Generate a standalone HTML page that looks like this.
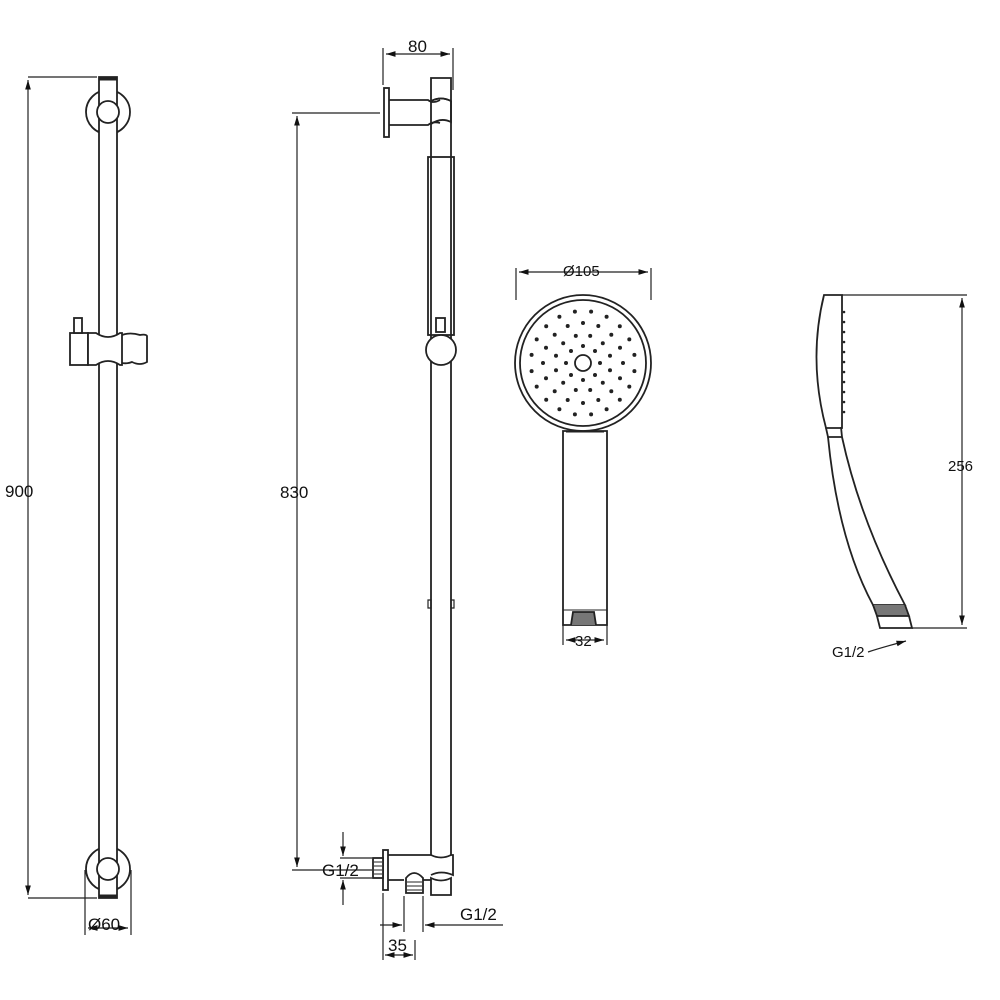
<!DOCTYPE html>
<html><head><meta charset="utf-8"><style>body{margin:0;background:#fff}svg{display:block}text{font-family:"Liberation Sans",sans-serif;font-size:17px;fill:#111}</style></head><body>
<svg width="1000" height="1000" viewBox="0 0 1000 1000" xmlns="http://www.w3.org/2000/svg">
<defs>
<marker id="a" viewBox="0 0 10 10" refX="10" refY="5" markerWidth="8" markerHeight="8" orient="auto-start-reverse"><path d="M0,2 L10,5 L0,8 z" fill="#111"/></marker>
</defs>
<g fill="none" stroke="#222" stroke-width="1.8">
<!-- LEFT RAIL -->
<circle cx="108" cy="112" r="22"/>
<circle cx="108" cy="869" r="22"/>
<path d="M99,77 H117 V898 H99 Z" fill="#fff"/>
<path d="M99,79 H117" stroke-width="3"/>
<circle cx="108" cy="112" r="11" fill="#fff"/>
<circle cx="108" cy="869" r="11" fill="#fff"/>
<path d="M99,896 H117" stroke-width="3"/>
<!-- left slider -->
<rect x="70" y="333" width="18" height="32" fill="#fff"/>
<rect x="74" y="318" width="8" height="15" fill="#fff"/>
<path d="M88,333 H96 Q108,341 120,333 H122 V365 H120 Q108,357 96,365 H88 Z" fill="#fff"/>
<path d="M122,335 Q130,332 140,335 Q146,334 147,336 V362 Q140,366 132,362 Q127,364 122,363"/>
<!-- 900 dim -->
<path d="M28,77 H97 M28,898 H97" stroke-width="1.2"/>
<path d="M28,80 V895" stroke-width="1.2" marker-start="url(#a)" marker-end="url(#a)"/>
<!-- Ø60 dim -->
<path d="M85,870 V935 M131,870 V935" stroke-width="1.2"/>
<path d="M88,928 H128" stroke-width="1.2" marker-start="url(#a)" marker-end="url(#a)"/>

<!-- MIDDLE RAIL -->
<path d="M431,101 V855 M451,101 V855"/>
<path d="M431,78 H451 V101 Q441,96 431,101 Z"/>
<path d="M431,101 Q441,96 451,101 V122 Q441,117 431,124"/>
<rect x="384" y="88" width="5" height="49" fill="#fff"/>
<path d="M389,100 H428 Q433,104 440,100 M389,125 H428 Q433,121 440,123"/>
<rect x="428" y="157" width="26" height="178"/>
<path d="M431,157 V335 M451,157 V335" stroke-width="1"/>
<rect x="436" y="318" width="9" height="14" fill="#fff"/>
<circle cx="441" cy="350" r="15" fill="#fff"/>
<path d="M428,600 H431 V608 H428 Z M451,600 H454 V608 H451 Z" stroke-width="1.2"/>
<!-- bottom elbow -->
<path d="M431,855 Q441,860 451,855 H453 V875 Q441,870 431,875"/>
<path d="M431,878 Q441,883 451,878 V895 H431 Z"/>
<rect x="383" y="850" width="5" height="40" fill="#fff"/>
<rect x="373" y="858" width="10" height="20" fill="#fff"/>
<path d="M374,862 H382 M374,866 H382 M374,870 H382 M374,874 H382" stroke-width="1"/>
<path d="M388,855 H431 M388,880 H404 M423,880 H431"/>
<path d="M406,893 V878 Q414,868 423,878 V893 Z" fill="#fff"/>
<path d="M407,882 H422 M407,886 H422 M407,890 H422" stroke-width="1"/>
<!-- 80 dim -->
<path d="M383,48 V85 M453,48 V90" stroke-width="1.2"/>
<path d="M386,54 H450" stroke-width="1.2" marker-start="url(#a)" marker-end="url(#a)"/>
<!-- 830 dim -->
<path d="M292,113 H380 M292,870 H372" stroke-width="1.2"/>
<path d="M297,116 V867" stroke-width="1.2" marker-start="url(#a)" marker-end="url(#a)"/>
<!-- G1/2 left -->
<path d="M340,858 H372 M340,878 H372" stroke-width="1.2"/>
<path d="M343,832 V856" stroke-width="1.2" marker-end="url(#a)"/>
<path d="M343,905 V880" stroke-width="1.2" marker-end="url(#a)"/>
<!-- bottom dims -->
<path d="M383,893 V960 M404,896 V932 M423,896 V932 M415,940 V960" stroke-width="1.2"/>
<path d="M380,925 H402" stroke-width="1.2" marker-end="url(#a)"/>
<path d="M503,925 H425" stroke-width="1.2" marker-end="url(#a)"/>
<path d="M385,955 H413" stroke-width="1.2" marker-start="url(#a)" marker-end="url(#a)"/>

<!-- SHOWER HEAD FRONT -->
<circle cx="583" cy="363" r="68"/>
<circle cx="583" cy="363" r="63"/>
<circle cx="583" cy="363" r="8"/>
<path d="M563,431 V625 H607 V431 Z" fill="#fff"/>
<path d="M566,432 H604" stroke-width="1"/>
<path d="M563,610 H607" stroke-width="1"/>
<path d="M571,625 L573,612 H594 L596,625" fill="#777"/>
<path d="M516,268 V300 M651,268 V300 M563,625 V645 M607,625 V645" stroke-width="1.2"/>
<path d="M519,272 H648" stroke-width="1.2" marker-start="url(#a)" marker-end="url(#a)"/>
<path d="M566,640 H604" stroke-width="1.2" marker-start="url(#a)" marker-end="url(#a)"/>

<!-- SIDE PROFILE -->
<path d="M824,295 Q808,360 826,428 H842 V295 Z"/>
<path d="M826,428 L828,437 H842 L841,427"/>
<path d="M828,437 Q838,540 873,605 H905 Q860,520 842,437"/>
<path d="M873,605 L877,616 H909 L905,605" fill="#777"/>
<path d="M877,616 L880,628 H912 L909,616"/>
<path d="M842,295 H967 M912,628 H967" stroke-width="1.2"/>
<path d="M962,298 V625" stroke-width="1.2" marker-start="url(#a)" marker-end="url(#a)"/>
<path d="M868,652 Q880,648 906,641" stroke-width="1.2" marker-end="url(#a)"/>
</g>
<g fill="#222">
<circle cx="844" cy="312" r="1.3"/><circle cx="844" cy="322" r="1.3"/><circle cx="844" cy="332" r="1.3"/><circle cx="844" cy="342" r="1.3"/><circle cx="844" cy="352" r="1.3"/><circle cx="844" cy="362" r="1.3"/><circle cx="844" cy="372" r="1.3"/><circle cx="844" cy="382" r="1.3"/><circle cx="844" cy="392" r="1.3"/><circle cx="844" cy="402" r="1.3"/><circle cx="844" cy="412" r="1.3"/>
</g>
<g fill="#222">
<circle cx="583" cy="346" r="2"/><circle cx="595" cy="351" r="2"/><circle cx="600" cy="363" r="2"/><circle cx="595" cy="375" r="2"/><circle cx="583" cy="380" r="2"/><circle cx="571" cy="375" r="2"/><circle cx="566" cy="363" r="2"/><circle cx="571" cy="351" r="2"/>
<circle cx="590.2" cy="335.9" r="2"/><circle cx="602.8" cy="343.2" r="2"/><circle cx="610" cy="355.8" r="2"/><circle cx="610" cy="370.2" r="2"/><circle cx="602.8" cy="382.8" r="2"/><circle cx="590.2" cy="390" r="2"/><circle cx="575.8" cy="390" r="2"/><circle cx="563.2" cy="382.8" r="2"/><circle cx="556" cy="370.2" r="2"/><circle cx="556" cy="355.8" r="2"/><circle cx="563.2" cy="343.2" r="2"/><circle cx="575.8" cy="335.9" r="2"/>
<circle cx="583" cy="323" r="2"/><circle cx="598.3" cy="326" r="2"/><circle cx="611.3" cy="334.7" r="2"/><circle cx="620" cy="347.7" r="2"/><circle cx="623" cy="363" r="2"/><circle cx="620" cy="378.3" r="2"/><circle cx="611.3" cy="391.3" r="2"/><circle cx="598.3" cy="400" r="2"/><circle cx="583" cy="403" r="2"/><circle cx="567.7" cy="400" r="2"/><circle cx="554.7" cy="391.3" r="2"/><circle cx="546" cy="378.3" r="2"/><circle cx="543" cy="363" r="2"/><circle cx="546" cy="347.7" r="2"/><circle cx="554.7" cy="334.7" r="2"/><circle cx="567.7" cy="326" r="2"/>
<circle cx="591.1" cy="311.6" r="2"/><circle cx="606.6" cy="316.7" r="2"/><circle cx="619.8" cy="326.2" r="2"/><circle cx="629.3" cy="339.4" r="2"/><circle cx="634.4" cy="354.9" r="2"/><circle cx="634.4" cy="371.1" r="2"/><circle cx="629.3" cy="386.6" r="2"/><circle cx="619.8" cy="399.8" r="2"/><circle cx="606.6" cy="409.3" r="2"/><circle cx="591.1" cy="414.4" r="2"/><circle cx="574.9" cy="414.4" r="2"/><circle cx="559.4" cy="409.3" r="2"/><circle cx="546.2" cy="399.8" r="2"/><circle cx="536.7" cy="386.6" r="2"/><circle cx="531.6" cy="371.1" r="2"/><circle cx="531.6" cy="354.9" r="2"/><circle cx="536.7" cy="339.4" r="2"/><circle cx="546.2" cy="326.2" r="2"/><circle cx="559.4" cy="316.7" r="2"/><circle cx="574.9" cy="311.6" r="2"/>
</g>
<text x="5" y="497">900</text>
<text x="88" y="930">Ø60</text>
<text x="408" y="52">80</text>
<text x="280" y="498">830</text>
<text x="322" y="876">G1/2</text>
<text x="460" y="920">G1/2</text>
<text x="388" y="951">35</text>
<text x="563" y="276" style="font-size:15px">Ø105</text>
<text x="575" y="646" style="font-size:15px">32</text>
<text x="948" y="471" style="font-size:15px">256</text>
<text x="832" y="657" style="font-size:15px">G1/2</text>
</svg>
</body></html>
